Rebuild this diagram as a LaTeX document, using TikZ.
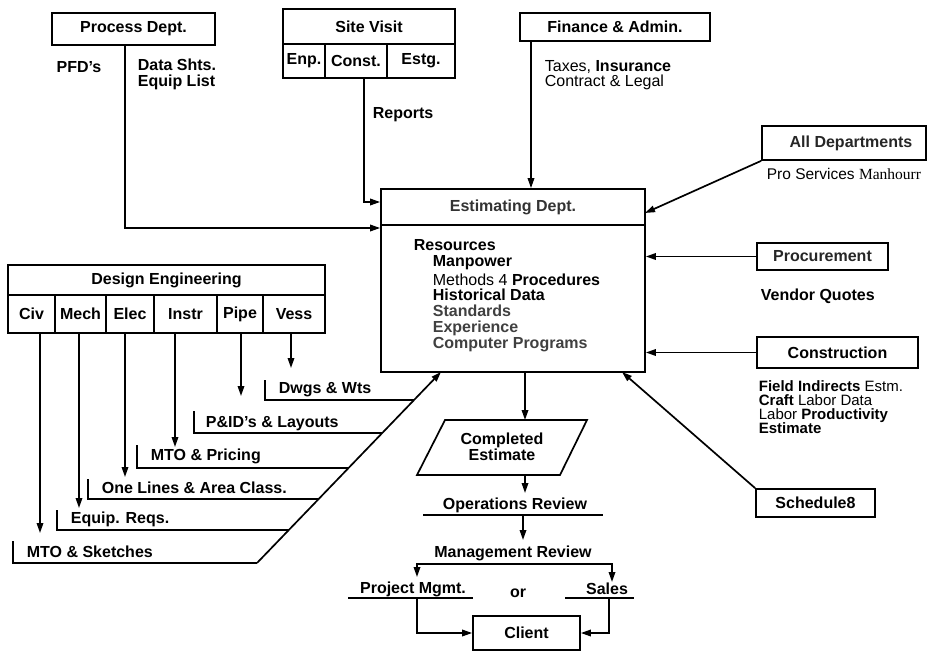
\documentclass[tikz,border=0pt]{standalone}
\usepackage{fontspec}
\setmainfont{Liberation Sans}
\newfontfamily\serifpart{Liberation Serif}
\usetikzlibrary{arrows.meta,calc}

\begin{document}
\begin{tikzpicture}[x=1pt,y=-1pt,
  line width=1.7pt,
  arr/.style={-{Triangle[length=10pt,width=6.5pt]}},
  box/.style={draw,rectangle,inner sep=0pt,line width=1.7pt,
    font=\fontsize{16}{17}\selectfont\bfseries},
  lbl/.style={inner sep=0pt,text height=11.5pt,text depth=0pt,
    font=\fontsize{16}{17}\selectfont\bfseries},
  plain/.style={inner sep=0pt,text height=11.5pt,text depth=0pt,
    font=\fontsize{16}{17}\selectfont},
  small/.style={inner sep=0pt,text height=10.5pt,text depth=0pt,
    font=\fontsize{15}{16}\selectfont},
]
\useasboundingbox (0,0) rectangle (937,653);

% ---------- upstream departments ----------
\node[box,minimum width=163pt,minimum height=32pt] (proc) at (133.5,29) {Process Dept.};
\node[lbl] (pfd) at (79,67) {PFD’s};
\node[lbl,anchor=west] (datash) at (137,65) {Data Shts.};
\node[lbl,anchor=west] (equip) at (137,81) {Equip List};

\node[box,minimum width=172pt,minimum height=35pt] (site) at (369,26.5) {Site Visit};
\node[box,minimum width=42pt,minimum height=34pt] (enp) at (304,61) {Enp.};
\node[box,minimum width=62pt,minimum height=34pt] (const) at (356,61) {Const.};
\node[box,minimum width=68pt,minimum height=34pt] (estg) at (421,61) {Estg.};
\node[lbl,anchor=west] (reports) at (372,113) {Reports};

\node[box,minimum width=190pt,minimum height=28pt] (fin) at (615,27) {Finance \& Admin.};
\node[plain,anchor=west] (taxes) at (544,66) {Taxes, \textbf{Insurance}};
\node[plain,anchor=west] (legal) at (544,81) {Contract \& Legal};

% ---------- estimating department ----------
\node[box,minimum width=264pt,minimum height=36pt,text=black!80] (esth) at (513,207) {Estimating Dept.};
\node[box,minimum width=264pt,minimum height=147pt] (estb) at (513,298.5) {};
\node[lbl,anchor=west] (res) at (413,245) {Resources};
\node[lbl,anchor=west] (manp) at (432,261) {Manpower};
\node[plain,anchor=west] (meth) at (432,280) {Methods 4 \textbf{Procedures}};
\node[lbl,anchor=west] (hist) at (432,295) {Historical Data};
\node[lbl,anchor=west,text=black!75] (stand) at (432,311) {Standards};
\node[lbl,anchor=west,text=black!75] (exper) at (432,327) {Experience};
\node[lbl,anchor=west,text=black!75] (comp) at (432,343) {Computer Programs};

% ---------- right-hand departments ----------
\node[box,minimum width=164pt,minimum height=34pt,text=black!85] (alld) at (844,143) {\hspace*{14pt}All Departments};
\node[inner sep=0pt,anchor=west,font=\fontsize{15.5}{16}\selectfont] (pros) at (766,174)
  {Pro Services {\serifpart Manhourr}};

\node[box,minimum width=131pt,minimum height=27pt,text=black!85] (procure) at (822.5,256.5) {Procurement};
\node[lbl,anchor=west] (vendor) at (760,295) {Vendor Quotes};

\node[box,minimum width=161pt,minimum height=31pt] (cons) at (837.5,352.5) {Construction};
\node[small,anchor=west] (field) at (758,386) {\textbf{Field Indirects} Estm.};
\node[small,anchor=west] (craft) at (758,400) {\textbf{Craft} Labor Data};
\node[small,anchor=west] (labor) at (758,414) {Labor \textbf{Productivity}};
\node[small,anchor=west,font=\fontsize{15}{16}\selectfont\bfseries] (estim) at (758,428) {Estimate};

\node[box,minimum width=119pt,minimum height=28pt] (sched) at (815.5,503) {Schedule8};

% ---------- design engineering ----------
\node[box,minimum width=317pt,minimum height=30pt] (design) at (166.5,280) {Design Engineering};
\node[box,minimum width=47pt,minimum height=38pt] (civ) at (31.5,314) {Civ};
\node[box,minimum width=51pt,minimum height=38pt] (mech) at (80.5,314) {Mech};
\node[box,minimum width=48pt,minimum height=38pt] (elec) at (130,314) {Elec};
\node[box,minimum width=63pt,minimum height=38pt] (instr) at (185.5,314) {Instr};
\node[box,minimum width=46pt,minimum height=38pt] (pipe) at (240,314) {Pipe};
\node[box,minimum width=62pt,minimum height=38pt] (vess) at (294,314) {Vess};

\node[lbl,anchor=west] (dwgs) at (278,388) {Dwgs \& Wts};
\node[lbl,anchor=west] (pid) at (205,422) {P\&ID’s \& Layouts};
\node[lbl,anchor=west] (mtop) at (150,455) {MTO \& Pricing};
\node[lbl,anchor=west] (onel) at (101,488) {One Lines \& Area Class.};
\node[lbl,anchor=west] (eqr) at (70,518) {Equip. Reqs.};
\node[lbl,anchor=west] (mtos) at (26,552) {MTO \& Sketches};

% ---------- completed estimate and review chain ----------
\coordinate (cetl) at (445,420);
\coordinate (cetr) at (587,420);
\coordinate (cebr) at (560,475);
\coordinate (cebl) at (417,475);
\draw (cetl) -- (cetr) -- (cebr) -- (cebl) -- cycle;
\node[inner sep=0pt,align=center,font=\fontsize{16}{16}\selectfont\bfseries] (complete) at (502,447) {Completed\\Estimate};

\node[lbl] (ops) at (515,504) {Operations Review};
\node[lbl] (mgmt) at (513,552) {Management Review};
\node[lbl] (pm) at (413,588) {Project Mgmt.};
\node[lbl] (orword) at (518,592) {or};
\node[lbl] (sales) at (607,589) {Sales};
\node[box,minimum width=107pt,minimum height=34pt] (client) at (526.5,633) {Client};

% ---------- connectors: inputs to the estimating department ----------
\coordinate (pfdturn) at (125,228);
\draw[arr] (proc.south -| pfdturn) |- (estb.west |- pfdturn);

\coordinate (repturn) at (364,202);
\draw[arr] (const.south -| repturn) |- (esth.west |- repturn);

\coordinate (finx) at (531,100);
\draw[arr] (fin.south -| finx) -- (esth.north -| finx);

\coordinate (alltip) at (645,213);
\draw[arr] (alld.south west) -- (alltip);

\draw[arr] (procure.west) -- (procure.west -| estb.east);
\draw[arr] (cons.west) -- (cons.west -| estb.east);

\coordinate (schedtip) at (622,372);
\draw[arr] (sched.north west) -- (schedtip);

% ---------- design engineering deliverables ----------
\coordinate (vessend) at (291,368);
\coordinate (pipeend) at (241,396);
\coordinate (instrend) at (175,447);
\coordinate (elecend) at (125,477);
\coordinate (mechend) at (79,508);
\coordinate (civend) at (40,533);
\draw[arr] (vess.south -| vessend) -- (vessend);
\draw[arr] (pipe.south -| pipeend) -- (pipeend);
\draw[arr] (instr.south -| instrend) -- (instrend);
\draw[arr] (elec.south -| elecend) -- (elecend);
\draw[arr] (mech.south -| mechend) -- (mechend);
\draw[arr] (civ.south -| civend) -- (civend);

\coordinate (dlow) at (257,563);
\coordinate (dtop) at (441,372);
\draw[arr] (dlow) -- (dtop);

\coordinate (tdwgs) at (265,380);
\coordinate (tpid) at (194,411);
\coordinate (tmtop) at (137,445);
\coordinate (tonel) at (88,479);
\coordinate (teqr) at (57,510);
\coordinate (tmtos) at (13,541);
\draw (tdwgs) |- ($(dlow)!{163/191}!(dtop)$);
\draw (tpid) |- ($(dlow)!{130/191}!(dtop)$);
\draw (tmtop) |- ($(dlow)!{95/191}!(dtop)$);
\draw (tonel) |- ($(dlow)!{64/191}!(dtop)$);
\draw (teqr) |- ($(dlow)!{33/191}!(dtop)$);
\draw (tmtos) |- (dlow);

% ---------- review chain connectors ----------
\coordinate (cetop) at (525,420);
\coordinate (cebot) at (525,475);
\draw[arr] (estb.south -| cetop) -- (cetop);
\draw[arr] (cebot) -- (525,493);

\coordinate (opsl) at (423,515);
\coordinate (opsr) at (603,515);
\draw (opsl) -- (opsr);
\coordinate (opsdrop) at (523,515);
\draw[arr] (opsdrop) -- (523,540);

\coordinate (pmtip) at (417,577);
\coordinate (mgr) at (612,564);
\coordinate (saletip) at (612,582);
\draw[{Triangle[length=10pt,width=6.5pt]}-{Triangle[length=10pt,width=6.5pt]}] (pmtip) |- (mgr) -- (saletip);

\coordinate (pml) at (348,598);
\coordinate (pmr) at (473,598);
\draw (pml) -- (pmr);
\coordinate (sl) at (565,598);
\coordinate (sr) at (634,598);
\draw (sl) -- (sr);

\coordinate (pmdrop) at (417,598);
\coordinate (sdrop) at (609,598);
\draw[arr] (pmdrop) |- (client.west);
\draw[arr] (sdrop) |- (client.east);
\end{tikzpicture}
\end{document}
